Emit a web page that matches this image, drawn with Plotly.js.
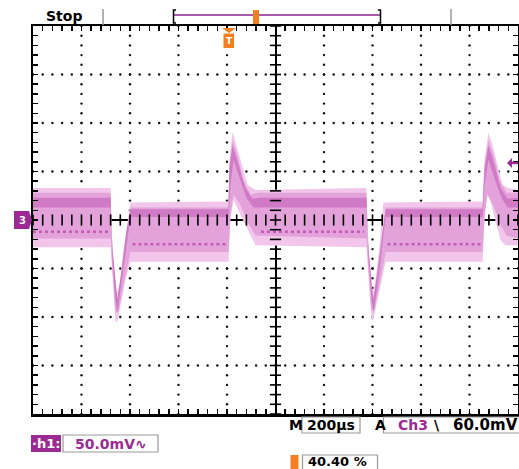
<!DOCTYPE html>
<html>
<head>
<meta charset="utf-8">
<script src="https://cdn.plot.ly/plotly-3.0.1.min.js"></script>
<style>html,body{margin:0;padding:0;background:#fff;}#plot{width:519px;height:469px;}</style>
</head>
<body>
<div id="plot"></div>
<script>
// ---- Data (time in µs, voltage in mV) ----
const envTopT = [-1000,-680,-676,-668,-656,-643,-627,-610,-598,-194,-190,-177,-161,-144,-115,-82,375,379,388,400,412,429,445,854,862,878,895,911,936,961,1000];
const envTopV = [33,33,-15,-41,-77,-67,-31,-2,18,19,62,91,77,62,36,31,33,-15,-41,-77,-62,-26,18,19,62,90,77,62,36,33,31];
const envBotT = [-1000,-680,-672,-660,-652,-639,-619,-598,-194,-186,-173,-144,-115,-82,375,384,396,404,416,437,454,854,862,874,899,928,948,1000];
const envBotV = [-28,-28,-62,-105,-105,-88,-62,-43,-43,0,21,5,-10,-26,-28,-62,-103,-103,-88,-62,-43,-43,0,31,8,-21,-26,-26];

const midTopT = [-1000,-680,-676,-664,-652,-635,-614,-598,-194,-190,-177,-157,-132,-103,-70,375,379,392,404,421,441,454,854,862,878,899,924,953,1000];
const midTopV = [28,28,-21,-57,-82,-57,-15,13,13,57,82,67,41,26,28,28,-21,-57,-82,-57,-15,13,13,57,82,67,41,28,28];
const midBotT = [-1000,-680,-672,-660,-647,-631,-610,-598,-194,-186,-173,-144,-115,-82,375,384,396,408,425,445,454,854,862,874,899,928,953,1000];
const midBotV = [-19,-19,-52,-95,-95,-72,-46,-33,-33,5,26,15,-2,-16,-19,-52,-93,-93,-72,-46,-33,-33,5,26,15,-5,-16,-19];

const coreTopT = [-1000,-680,-672,-660,-652,-635,-614,-598,-194,-190,-177,-153,-124,-95,-62,375,384,396,404,421,441,454,854,862,878,903,928,957,1000];
const coreTopV = [23,23,-31,-67,-82,-52,-10,11,11,52,77,57,33,22,23,23,-31,-67,-82,-52,-10,11,11,52,77,57,33,22,23];
const coreBotT = [-1000,-680,-672,-660,-652,-635,-614,-598,-194,-186,-173,-148,-120,-91,375,384,396,404,421,441,454,854,862,878,903,932,957,1000];
const coreBotV = [13,13,-43,-82,-95,-67,-26,3,3,36,62,43,23,13,13,-43,-82,-95,-67,-26,3,3,36,62,43,23,13,13];

const streakT = [-1000,-690,null,-590,-202,null,-60,365,null,462,846];
const streakV = [-12,-12,null,-25,-25,null,-12,-12,null,-25,-25];

// Scope settings / labels
const timePerDiv = 200;   // µs
const voltsPerDiv = 50;   // mV
const triggerLevel = 60;  // mV
const labels = {stop:"Stop", chan:"·h1:", scale:"50.0mV∿", m:"M", time:"200µs", a:"A", trigCh:"Ch3", slope:"\\", trigLvl:"60.0mV", pos:"40.40 %"};

// ---- helpers ----
function poly(tT, tV, bT, bV){
  return {x: tT.concat(bT.slice().reverse()), y: tV.concat(bV.slice().reverse())};
}
const L = 33, R = 518, T = 26, B = 414;
const X = p => (p - L) / (R - L);
const Y = p => (B - p) / (B - T);

const traces = [];

// grid dots
const gx = [], gy = [];
for (let d = -4; d <= 4; d++) {
  if (d === 0) continue;
  const t = d * timePerDiv;
  for (let v = -4*voltsPerDiv; v <= 4*voltsPerDiv; v += voltsPerDiv/5) { gx.push(t); gy.push(v); }
}
for (let d = -3; d <= 3; d++) {
  if (d === 0) continue;
  const v = d * voltsPerDiv;
  for (let t = -5*timePerDiv; t <= 5*timePerDiv; t += timePerDiv/5) { gx.push(t); gy.push(v); }
}
traces.push({type:'scatter', mode:'markers', x:gx, y:gy, marker:{size:2.4, color:'#111'}, hoverinfo:'skip'});

// waveform layers
const e = poly(envTopT, envTopV, envBotT, envBotV);
traces.push({type:'scatter', mode:'lines', x:e.x, y:e.y, fill:'toself', fillcolor:'#f1c6ea', line:{width:0, color:'#f1c6ea'}, hoverinfo:'skip'});
const m = poly(midTopT, midTopV, midBotT, midBotV);
traces.push({type:'scatter', mode:'lines', x:m.x, y:m.y, fill:'toself', fillcolor:'#e3a2da', line:{width:0, color:'#e3a2da'}, hoverinfo:'skip'});
const c = poly(coreTopT, coreTopV, coreBotT, coreBotV);
traces.push({type:'scatter', mode:'lines', x:c.x, y:c.y, fill:'toself', fillcolor:'#d07ac6', line:{width:0, color:'#d07ac6'}, hoverinfo:'skip'});
traces.push({type:'scatter', mode:'lines', x:streakT, y:streakV, line:{width:2.5, color:'#c45ab8', dash:'dot'}, connectgaps:false, hoverinfo:'skip'});

// center axis cross ticks
const hx = [], hy = [], vx = [], vy = [];
for (let t = -5*timePerDiv; t <= 5*timePerDiv; t += timePerDiv/5) { hx.push(t); hy.push(0); }
for (let v = -4*voltsPerDiv; v <= 4*voltsPerDiv; v += voltsPerDiv/5) { vx.push(0); vy.push(v); }
traces.push({type:'scatter', mode:'markers', x:hx, y:hy, marker:{symbol:'line-ns', size:8, line:{width:1.6, color:'#000'}}, hoverinfo:'skip'});
traces.push({type:'scatter', mode:'markers', x:vx, y:vy, marker:{symbol:'line-ew', size:8, line:{width:1.6, color:'#000'}}, hoverinfo:'skip'});

const shapes = [
  // top bar
  {type:'line', xref:'paper', yref:'paper', x0:X(103), x1:X(103), y0:Y(9), y1:Y(25), line:{color:'#999', width:1.5}},
  {type:'line', xref:'paper', yref:'paper', x0:X(451), x1:X(451), y0:Y(9), y1:Y(25), line:{color:'#999', width:1.5}},
  {type:'line', xref:'paper', yref:'paper', x0:X(174), x1:X(380), y0:Y(15), y1:Y(15), line:{color:'#a95aa8', width:2}},
  {type:'path', xref:'paper', yref:'paper', path:`M ${X(176)} ${Y(10)} L ${X(173.5)} ${Y(10)} L ${X(173.5)} ${Y(23)} L ${X(176)} ${Y(23)}`, line:{color:'#000', width:1.5}},
  {type:'path', xref:'paper', yref:'paper', path:`M ${X(378)} ${Y(10)} L ${X(380.5)} ${Y(10)} L ${X(380.5)} ${Y(23)} L ${X(378)} ${Y(23)}`, line:{color:'#000', width:1.5}},
  {type:'rect', xref:'paper', yref:'paper', x0:X(253), x1:X(259), y0:Y(24), y1:Y(10), fillcolor:'#f28022', line:{width:0}},
  // trigger position marker below top
  {type:'path', xref:'paper', yref:'paper', path:`M ${X(222)} ${Y(28)} L ${X(236)} ${Y(28)} L ${X(229)} ${Y(33)} Z`, fillcolor:'#f28022', line:{width:0}},
  {type:'rect', xref:'paper', yref:'paper', x0:X(223.5), x1:X(234), y0:Y(48), y1:Y(33.5), fillcolor:'#f28022', line:{width:0}},
  // trigger level arrow on right
  {type:'path', xref:'paper', yref:'paper', path:`M ${X(507)} ${Y(163)} L ${X(512)} ${Y(158)} L ${X(512)} ${Y(168)} Z`, fillcolor:'#9b2a92', line:{width:0}},
  {type:'line', xref:'paper', yref:'paper', x0:X(511), x1:X(518), y0:Y(163), y1:Y(163), line:{color:'#9b2a92', width:2.5}},
  // ground marker on left
  {type:'path', xref:'paper', yref:'paper', path:`M ${X(14)} ${Y(211)} L ${X(29)} ${Y(211)} L ${X(32)} ${Y(220)} L ${X(29)} ${Y(229)} L ${X(14)} ${Y(229)} Z`, fillcolor:'#9b2a92', line:{width:0}},
  // bottom boxes
  {type:'rect', xref:'paper', yref:'paper', x0:X(302), x1:X(360), y0:Y(433), y1:Y(417), fillcolor:'#fff', line:{color:'#999', width:1.2}},
  {type:'rect', xref:'paper', yref:'paper', x0:X(383.5), x1:X(521), y0:Y(433), y1:Y(417), fillcolor:'#fff', line:{color:'#999', width:1.2}},
  {type:'rect', xref:'paper', yref:'paper', x0:X(31), x1:X(61), y0:Y(452), y1:Y(435), fillcolor:'#9b2a92', line:{width:0}},
  {type:'rect', xref:'paper', yref:'paper', x0:X(63), x1:X(158), y0:Y(452), y1:Y(435), fillcolor:'#fff', line:{color:'#999', width:1.2}},
  {type:'rect', xref:'paper', yref:'paper', x0:X(290.5), x1:X(298.5), y0:Y(470), y1:Y(455), fillcolor:'#f28022', line:{width:0}},
  {type:'rect', xref:'paper', yref:'paper', x0:X(302.5), x1:X(377.5), y0:Y(471), y1:Y(455), fillcolor:'#fff', line:{color:'#999', width:1.2}}
];

const F = 'DejaVu Sans, Verdana, sans-serif';
function ann(text, px, py, opts){
  return Object.assign({xref:'paper', yref:'paper', x:X(px), y:Y(py), text:text, showarrow:false, xanchor:'left', yanchor:'middle',
    font:{family:F, size:14, color:'#000'}}, opts || {});
}
const annotations = [
  ann('<b>'+labels.stop+'</b>', 44, 16),
  ann('<b>T</b>', 229, 41, {xanchor:'center', font:{family:F, size:9, color:'#fff'}}),
  ann('<b>3</b>', 22, 220, {xanchor:'center', font:{family:F, size:10, color:'#fff'}}),
  ann('<b>'+labels.m+'</b>', 287, 425),
  ann('<b>'+labels.time+'</b>', 331, 425, {xanchor:'center'}),
  ann('<b>'+labels.a+'</b>', 373, 425),
  ann('<b>'+labels.trigCh+'</b>', 396, 425, {font:{family:F, size:14, color:'#9b2a92'}}),
  ann('<b>'+labels.slope+'</b>', 432, 425),
  ann('<b>'+labels.trigLvl+'</b>', 520, 425, {xanchor:'right', font:{family:F, size:15, color:'#000'}}),
  ann('<b>'+labels.chan+'</b>', 46, 443.5, {xanchor:'center', font:{family:F, size:13, color:'#fff'}}),
  ann('<b>'+labels.scale+'</b>', 73, 443.5, {font:{family:F, size:14, color:'#9b2a92'}}),
  ann('<b>'+labels.pos+'</b>', 306, 461, {font:{family:F, size:13, color:'#000'}})
];

const layout = {
  width:519, height:469,
  margin:{l:L, r:519-R, t:T, b:469-B, pad:0},
  paper_bgcolor:'#fff', plot_bgcolor:'#fff',
  showlegend:false,
  xaxis:{range:[-5*timePerDiv, 5*timePerDiv], showgrid:false, zeroline:true, zerolinecolor:'#000', zerolinewidth:2,
    showline:true, linecolor:'#000', linewidth:2.5, mirror:'allticks', ticks:'inside', ticklen:5, tickwidth:1.5, tickcolor:'#000',
    tick0:-5*timePerDiv, dtick:timePerDiv/5, showticklabels:false, fixedrange:true},
  yaxis:{range:[-4*voltsPerDiv, 4*voltsPerDiv], showgrid:false, zeroline:true, zerolinecolor:'#000', zerolinewidth:2,
    showline:true, linecolor:'#000', linewidth:2.5, mirror:'allticks', ticks:'inside', ticklen:5, tickwidth:1.5, tickcolor:'#000',
    tick0:-4*voltsPerDiv, dtick:voltsPerDiv/5, showticklabels:false, fixedrange:true},
  shapes:shapes,
  annotations:annotations
};

Plotly.newPlot('plot', traces, layout, {displayModeBar:false, staticPlot:true});
</script>
</body>
</html>
